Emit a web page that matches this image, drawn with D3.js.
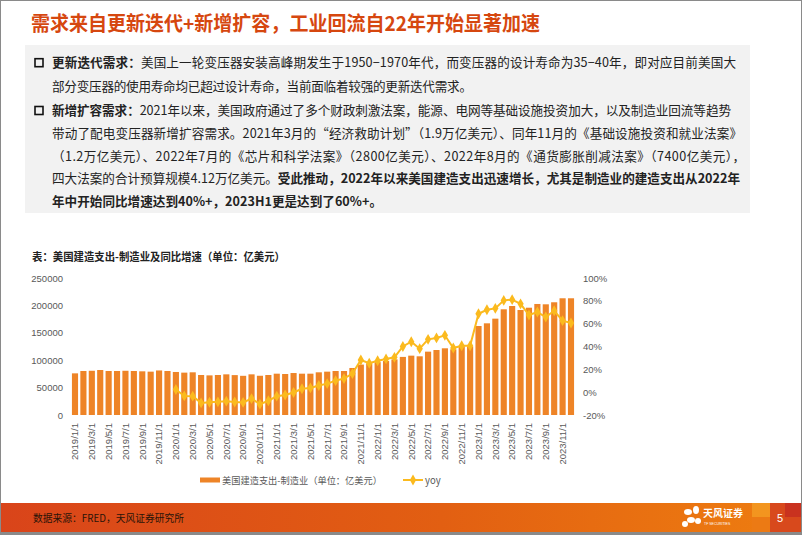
<!DOCTYPE html>
<html>
<head>
<meta charset="utf-8">
<script src="https://cdn.jsdelivr.net/npm/d3@7"></script>
<style>
  html, body { margin: 0; padding: 0; background: #fff; }
  svg { display: block; }
  text { font-family: "Noto Sans CJK SC", "Noto Sans", sans-serif; }
  .num { font-family: "Liberation Sans", "DejaVu Sans", sans-serif; }
</style>
</head>
<body>
<svg id="chart" width="802" height="535"></svg>
<script>
// ---------- DATA ----------
const months = [];
for (let y = 2019; y <= 2023; y++) for (let m = 1; m <= 12; m++) months.push(`${y}/${m}/1`);

const spending = [
  76000, 80300, 80700, 82100, 80300, 80300, 80700, 80300, 79700, 79100, 81300, 80300,
  78500, 77300, 77900, 73000, 72300, 73000, 74200, 72800, 71500, 74200, 71600, 73000,
  75400, 74800, 76600, 75400, 75400, 77900, 79100, 80300, 80300, 85800, 92000, 94000,
  96500, 98500, 101500, 106000, 108300, 107100, 115600, 118600, 121700, 119900, 125300, 125300,
  162400, 167300, 175800, 192900, 198900, 191600, 195800, 202600, 202000, 205700, 213000, 213000
];

const yoy = [
  null, null, null, null, null, null, null, null, null, null, null, null,
  2.3, -3.3, -3.5, -9.4, -8.8, -8.5, -7.9, -8.6, -9.0, -5.6, -10.5, -7.5,
  -3.5, -2.5, -0.3, 3.0, 3.7, 5.8, 7.5, 10.1, 11.9, 16.3, 28.2, 25.3,
  27.5, 29.1, 30.5, 40.0, 44.2, 38.1, 46.3, 47.5, 49.8, 38.7, 40.7, 40.7,
  68.7, 72.2, 73.4, 80.4, 81.0, 77.4, 67.6, 70.2, 65.8, 71.3, 62.6, 60.6
];

const leftTicks = [0, 50000, 100000, 150000, 200000, 250000];
const rightTicks = [-20, 0, 20, 40, 60, 80, 100];

const titleText = "需求来自更新迭代+新增扩容，工业回流自22年开始显著加速";
const chartTitle = "表：美国建造支出-制造业及同比增速（单位：亿美元）";
const legendBar = "美国建造支出-制造业（单位：亿美元）";
const legendLine = "yoy";
const sourceText = "数据来源：FRED，天风证券研究所";

// body text lines: [segments [text,bold]], target width
const bodyLines = [
  [[["更新迭代需求：", true], ["美国上一轮变压器安装高峰期发生于1950−1970年代，而变压器的设计寿命为35−40年，即对应目前美国大", false]], 684],
  [[["部分变压器的使用寿命均已超过设计寿命，当前面临着较强的更新迭代需求。", false]], 420],
  [[["新增扩容需求：", true], ["2021年以来，美国政府通过了多个财政刺激法案，能源、电网等基础设施投资加大，以及制造业回流等趋势", false]], 679],
  [[["带动了配电变压器新增扩容需求。2021年3月的“经济救助计划”（1.9万亿美元）、同年11月的《基础设施投资和就业法案》", false]], 690],
  [[["（1.2万亿美元）、2022年7月的《芯片和科学法案》（2800亿美元）、2022年8月的《通货膨胀削减法案》（7400亿美元），", false]], 693],
  [[["四大法案的合计预算规模4.12万亿美元。", false], ["受此推动，2022年以来美国建造支出迅速增长，尤其是制造业的建造支出从2022年", true]], 688],
  [[["年中开始同比增速达到40%+，2023H1更是达到了60%+。", true]], 330]
];
const bulletLines = [0, 2];
const lineCenters = [62.7, 86.7, 110.5, 133.5, 156.5, 178.5, 201.5];

// ---------- DRAW ----------
const svg = d3.select("#chart");

// defs
const defs = svg.append("defs");
const grad = defs.append("linearGradient").attr("id", "footGrad").attr("x1", "0").attr("x2", "1");
grad.append("stop").attr("offset", "0").attr("stop-color", "#D9441A");
grad.append("stop").attr("offset", "0.55").attr("stop-color", "#E25F12");
grad.append("stop").attr("offset", "1").attr("stop-color", "#EE7E10");

// title
svg.append("text")
  .attr("x", 31).attr("y", 31)
  .attr("font-size", 20).attr("font-weight", "bold")
  .attr("fill", "#D6470F")
  .attr("textLength", 509).attr("lengthAdjust", "spacingAndGlyphs")
  .text(titleText);

// grey text box
svg.append("rect").attr("x", 25).attr("y", 45).attr("width", 725).attr("height", 168).attr("fill", "#F2F2F2");

bulletLines.forEach(i => {
  svg.append("rect")
    .attr("x", 35).attr("y", lineCenters[i] - 4).attr("width", 8).attr("height", 8)
    .attr("fill", "none").attr("stroke", "#111").attr("stroke-width", 1.6);
});

bodyLines.forEach((ln, i) => {
  const t = svg.append("text")
    .attr("x", 52).attr("y", lineCenters[i] + 4.6)
    .attr("font-size", 12.6).attr("fill", "#222")
    .attr("textLength", ln[1]).attr("lengthAdjust", "spacing");
  ln[0].forEach(seg => {
    t.append("tspan").attr("font-weight", seg[1] ? "bold" : "normal").text(seg[0]);
  });
});

// chart title
svg.append("text")
  .attr("x", 32).attr("y", 260.5)
  .attr("font-size", 11).attr("font-weight", "bold").attr("fill", "#222")
  .attr("textLength", 253).attr("lengthAdjust", "spacingAndGlyphs")
  .text(chartTitle);

// scales
const x = d3.scaleBand().domain(months).range([70.8, 575.2]).paddingInner(0.27).paddingOuter(0.135);
const yL = d3.scaleLinear().domain([0, 250000]).range([415, 278]);
const yR = d3.scaleLinear().domain([-20, 100]).range([415, 278]);

// axes
const axL = svg.append("g").attr("transform", "translate(63,0)")
  .call(d3.axisLeft(yL).tickValues(leftTicks).tickSize(0).tickPadding(0).tickFormat(d => String(d)));
const axR = svg.append("g").attr("transform", "translate(583,0)")
  .call(d3.axisRight(yR).tickValues(rightTicks).tickSize(0).tickPadding(0).tickFormat(d => d + "%"));
[axL, axR].forEach(a => {
  a.select(".domain").remove();
  a.selectAll("text").attr("class", "num").attr("font-size", 9.5).attr("fill", "#595959");
});

const xLabels = months.filter((d, i) => i % 2 === 0);
const axX = svg.append("g").attr("transform", "translate(0,416)")
  .call(d3.axisBottom(x).tickValues(xLabels).tickSize(0).tickPadding(0));
axX.select(".domain").remove();
axX.selectAll("text")
  .attr("class", "num")
  .attr("font-size", 9.5).attr("fill", "#595959")
  .attr("transform", "rotate(-90)")
  .attr("text-anchor", "end")
  .attr("dy", "0.35em")
  .attr("x", -7).attr("y", 0);

// bars
const barColor = "#EE8427";
svg.append("g").selectAll("rect").data(spending).join("rect")
  .attr("x", (d, i) => x(months[i]))
  .attr("width", x.bandwidth())
  .attr("y", d => yL(d))
  .attr("height", d => yL(0) - yL(d))
  .attr("fill", barColor);

// yoy line
const lineColor = "#FBBA1E";
const pts = yoy.map((v, i) => ({ m: months[i], v })).filter(p => p.v !== null);
const line = d3.line().x(p => x(p.m) + x.bandwidth() / 2).y(p => yR(p.v));
svg.append("path").datum(pts).attr("d", line)
  .attr("fill", "none").attr("stroke", lineColor).attr("stroke-width", 2);
const sym = d3.symbol().type(d3.symbolDiamond).size(34);
svg.append("g").selectAll("path").data(pts).join("path")
  .attr("transform", p => `translate(${x(p.m) + x.bandwidth() / 2},${yR(p.v)})`)
  .attr("d", sym).attr("fill", lineColor);

// legend
const lg = svg.append("g");
lg.append("rect").attr("x", 200).attr("y", 477.5).attr("width", 20).attr("height", 5).attr("fill", barColor);
lg.append("text").attr("x", 222).attr("y", 483.5).attr("font-size", 9.5).attr("fill", "#595959")
  .attr("textLength", 160).attr("lengthAdjust", "spacingAndGlyphs").text(legendBar);
lg.append("line").attr("x1", 403).attr("x2", 423).attr("y1", 480).attr("y2", 480)
  .attr("stroke", lineColor).attr("stroke-width", 2);
lg.append("path").attr("transform", "translate(413,480)").attr("d", sym).attr("fill", lineColor);
lg.append("text").attr("x", 425).attr("y", 483.5).attr("font-size", 9.5).attr("fill", "#595959").text(legendLine);

// footer band
svg.append("rect").attr("x", 0).attr("y", 503).attr("width", 802).attr("height", 29).attr("fill", "url(#footGrad)");
// decorative squares
svg.append("rect").attr("x", 752).attr("y", 503).attr("width", 18).attr("height", 29).attr("fill", "#F39A22").attr("opacity", 0.85);
svg.append("rect").attr("x", 770).attr("y", 503).attr("width", 32).attr("height", 29).attr("fill", "#D8491C");
svg.append("rect").attr("x", 785).attr("y", 503).attr("width", 17).attr("height", 14).attr("fill", "#C9321F");
svg.append("rect").attr("x", 752).attr("y", 517).attr("width", 18).attr("height", 15).attr("fill", "#EC7A14");

svg.append("text").attr("x", 33).attr("y", 521.5).attr("font-size", 10).attr("fill", "#2a1408")
  .attr("textLength", 151).attr("lengthAdjust", "spacingAndGlyphs").text(sourceText);

svg.append("text").attr("x", 777).attr("y", 522).attr("font-size", 11).attr("fill", "#fff")
  .attr("class", "num").text("5");

// logo
const logo = svg.append("g").attr("fill", "#fff");
[[688, 512, 4, 3], [696, 510, 3, 4], [691, 520, 4, 3], [698, 521, 3, 3], [685, 524, 3, 3]].forEach(e => {
  logo.append("ellipse").attr("cx", e[0]).attr("cy", e[1]).attr("rx", e[2]).attr("ry", e[3]);
});
logo.append("text").attr("x", 703).attr("y", 517).attr("font-size", 10).attr("font-weight", "bold").text("天风证券");
logo.append("text").attr("x", 704).attr("y", 525).attr("font-size", 3.5).attr("class", "num").text("TF SECURITIES");

// slide border
svg.append("rect").attr("x", 0).attr("y", 532).attr("width", 802).attr("height", 3).attr("fill", "#8a8a8a");
svg.append("rect").attr("x", 0.5).attr("y", 0.5).attr("width", 801).attr("height", 534)
  .attr("fill", "none").attr("stroke", "#8a8a8a").attr("stroke-width", 1);
</script>
</body>
</html>
